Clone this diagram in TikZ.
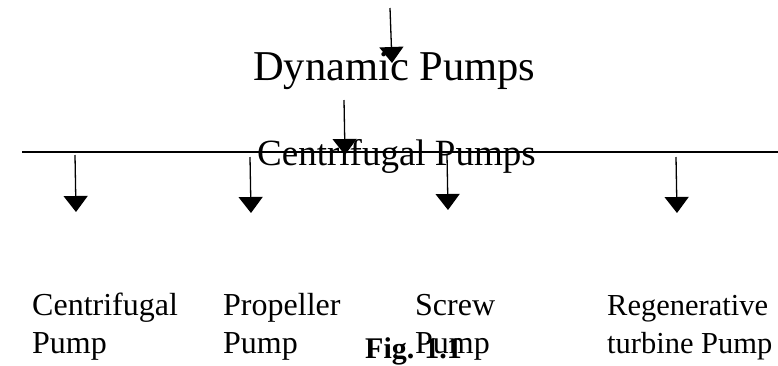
\documentclass[tikz,border=0pt]{standalone}
\usepackage{fontspec}
\setmainfont{Liberation Serif}
\usetikzlibrary{arrows.meta}
\begin{document}
\begin{tikzpicture}[x=1pt,y=-1pt]
      \tikzstyle{label}=[inner sep=0pt,anchor=base west,font=\fontsize{32}{38}\selectfont]
      \tikzstyle{edge}=[draw,line width=1.3pt,-{Triangle[width=24pt,length=16pt]}]
      \useasboundingbox (0,0) rectangle (778,365);
      \node[inner sep=0pt,anchor=base west,font=\fontsize{42.5}{50}\selectfont] (D) at (253,80) {Dynamic Pumps};
      \node[inner sep=0pt,anchor=base west,font=\fontsize{37}{46}\selectfont] (C) at (257,165) {Centrifugal Pumps};
      \node[label] (P1a) at (32,315) {Centrifugal};
      \node[label] (P1b) at (32,353) {Pump};
      \node[label] (P2a) at (223,315) {Propeller};
      \node[label] (P2b) at (223,353) {Pump};
      \node[label] (P3a) at (415,315) {Screw};
      \node[label] (P3b) at (415,353) {Pump};
      \node[label,font=\fontsize{30.5}{38}\selectfont] (P4a) at (607,315) {Regenerative};
      \node[label,font=\fontsize{30.5}{38}\selectfont] (P4b) at (607,353) {turbine Pump};
      \node[inner sep=0pt,anchor=base west,font=\bfseries\fontsize{30}{34}\selectfont] (F) at (365,358) {Fig. 1.1};
      \coordinate (T0) at (390,8);   \coordinate (T1) at (392,63);
      \coordinate (M0) at (344,100); \coordinate (M1) at (345,155);
      \coordinate (L) at (22,152);   \coordinate (R) at (778,152);
      \coordinate (A0) at (75,155);  \coordinate (A1) at (76,212);
      \coordinate (B0) at (250,157); \coordinate (B1) at (251,213);
      \coordinate (S0) at (447,155); \coordinate (S1) at (448,210);
      \coordinate (G0) at (676,157); \coordinate (G1) at (677,213);
      \path[edge] (T0) -- (T1);
      \path[edge] (M0) -- (M1);
      \path[draw,line width=1.6pt] (L) -- (R);
      \path[edge] (A0) -- (A1);
      \path[edge] (B0) -- (B1);
      \path[edge] (S0) -- (S1);
      \path[edge] (G0) -- (G1);
    \end{tikzpicture}
\end{document}
